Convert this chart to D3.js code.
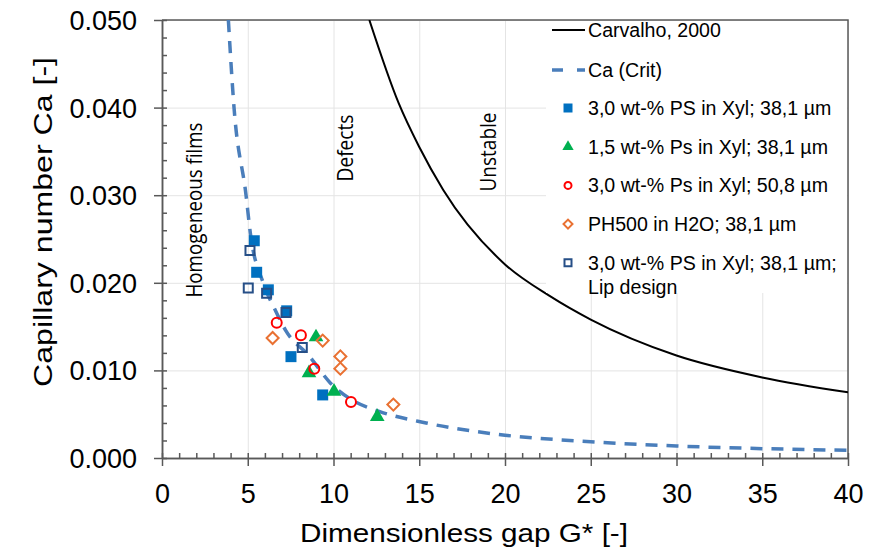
<!DOCTYPE html>
<meta charset="utf-8">
<style>
    body { margin: 0; background: #fff; }
    svg text { font-family: "Liberation Sans", Arial, sans-serif; fill: #000; }
    .grid line { stroke: #e4e4e4; stroke-width: 1; }
    .grid path { display: none; }
    .axis path, .axis line { stroke: #595959; stroke-width: 1.5; }
    .note { font-family: "Open Sans", sans-serif; font-size: 21px; }
    .leg { font-size: 19.6px; }
</style>
<body>
<script src="https://cdn.jsdelivr.net/npm/d3@7"></script>
<script>

    // curves: [G*, Ca]
    var carvalho = [[12.09, 0.050], [13.8, 0.0405], [15, 0.0355], [16.4, 0.0306], [20, 0.0221],
        [22.6, 0.0185], [25, 0.0158], [30, 0.0117], [35, 0.0092], [40, 0.0075]];
    var caCrit = [[3.87, 0.050], [4.2, 0.040], [4.9, 0.030], [5.15, 0.0257], [5.9, 0.020],
        [6.6, 0.0169], [7.2, 0.0146], [8.6, 0.0116], [9.8, 0.0086], [11.1, 0.0066],
        [12.7, 0.0053], [15.4, 0.0040], [20, 0.0026], [25, 0.00186], [30, 0.00137],
        [35, 0.00107], [40, 0.00088]];

    // measured points
    var ps30 = [[5.38, 0.0248], [5.52, 0.0212], [6.2, 0.0192], [7.27, 0.0168], [7.52, 0.01157], [9.37, 0.0072]];
    var ps15 = [[8.98, 0.0138], [8.57, 0.0097], [10.03, 0.0076], [12.55, 0.0047]];
    var ps30wide = [[6.69, 0.01545], [8.1, 0.0140], [8.88, 0.0102], [11.02, 0.0064]];
    var ph500 = [[6.45, 0.0137], [9.37, 0.0134], [10.4, 0.0116], [10.4, 0.0102], [13.49, 0.0061]];
    var psLip = [[5.13, 0.0237], [5.03, 0.0194], [6.1, 0.0188], [7.23, 0.0166], [8.18, 0.0126]];

    var xTicks = [0, 5, 10, 15, 20, 25, 30, 35, 40];
    var yTicks = [0, 0.01, 0.02, 0.03, 0.04, 0.05];

    var series = [
        { name: "3,0 wt-% PS in Xyl; 38,1 µm", data: ps30, type: "square", color: "#0070c0", fill: true },
        { name: "1,5 wt-% Ps in Xyl; 38,1 µm", data: ps15, type: "triangle", color: "#00b050", fill: true },
        { name: "3,0 wt-% Ps in Xyl; 50,8 µm", data: ps30wide, type: "circle", color: "#ff0000", fill: false },
        { name: "PH500 in H2O; 38,1 µm", data: ph500, type: "diamond", color: "#e97132", fill: false },
        { name: "3,0 wt-% PS in Xyl; 38,1 µm;", name2: "Lip design", data: psLip, type: "square", color: "#264f87", fill: false }
    ];

    var W = 870, H = 559;
    var pLeft = 162, pRight = 848, pTop = 20, pBottom = 458;

    var x = d3.scaleLinear().domain([0, 40]).range([pLeft, pRight]);
    var y = d3.scaleLinear().domain([0, 0.05]).range([pBottom, pTop]);

    var svg = d3.select("body").append("svg")
        .attr("width", W)
        .attr("height", H);

    svg.append("defs").append("clipPath").attr("id", "plot")
        .append("rect").attr("x", pLeft).attr("y", pTop)
        .attr("width", pRight - pLeft).attr("height", pBottom - pTop);

    // grid
    svg.append("g").attr("class", "grid")
        .attr("transform", "translate(0," + pBottom + ")")
        .call(d3.axisBottom(x).tickValues(xTicks.slice(1)).tickSize(-(pBottom - pTop)).tickFormat(""));
    svg.append("g").attr("class", "grid")
        .attr("transform", "translate(" + pLeft + ",0)")
        .call(d3.axisLeft(y).tickValues(yTicks.slice(1)).tickSize(-(pRight - pLeft)).tickFormat(""));

    // frame
    svg.append("path")
        .attr("d", "M" + pLeft + "," + pTop + "H" + pRight + "V" + pBottom)
        .attr("fill", "none").attr("stroke", "#595959").attr("stroke-width", 1.5);

    // minor ticks (inside)
    svg.append("g").attr("class", "axis")
        .attr("transform", "translate(0," + pBottom + ")")
        .call(d3.axisBottom(x).tickValues(d3.range(0, 41, 1)).tickSize(-5).tickSizeOuter(0).tickFormat(""));
    svg.append("g").attr("class", "axis")
        .attr("transform", "translate(" + pLeft + ",0)")
        .call(d3.axisLeft(y).tickValues(d3.range(0, 26).map(function (i) { return i * 0.002; }))
            .tickSize(-5).tickSizeOuter(0).tickFormat(""));

    // major axes
    var xAxis = svg.append("g").attr("class", "axis")
        .attr("transform", "translate(0," + pBottom + ")")
        .call(d3.axisBottom(x).tickValues(xTicks).tickSize(8).tickSizeOuter(0).tickFormat(d3.format("d")));
    xAxis.selectAll("text").attr("font-size", 27).attr("dy", null).attr("y", 45)
        .attr("font-family", "Liberation Sans, Arial, sans-serif");

    var yAxis = svg.append("g").attr("class", "axis")
        .attr("transform", "translate(" + pLeft + ",0)")
        .call(d3.axisLeft(y).tickValues(yTicks).tickSize(8).tickSizeOuter(0).tickFormat(d3.format(".3f")));
    yAxis.selectAll("text").attr("font-size", 27).attr("x", -25).attr("dy", "0.35em")
        .attr("font-family", "Liberation Sans, Arial, sans-serif");

    // axis titles
    svg.append("text")
        .attr("x", 464).attr("y", 542)
        .attr("text-anchor", "middle")
        .attr("font-size", 25)
        .attr("textLength", 328).attr("lengthAdjust", "spacingAndGlyphs")
        .text("Dimensionless  gap G* [-]");

    svg.append("text")
        .attr("transform", "translate(52,222) rotate(-90)")
        .attr("text-anchor", "middle")
        .attr("font-size", 25)
        .attr("textLength", 330).attr("lengthAdjust", "spacingAndGlyphs")
        .text("Capillary number Ca [-]");

    // region notes
    var notes = [["Homogeneous films", 202, 210, 175], ["Defects", 353, 148, 67], ["Unstable", 496, 152, 79]];
    svg.selectAll(".note").data(notes).enter().append("text")
        .attr("class", "note")
        .attr("transform", function (d) { return "translate(" + d[1] + "," + d[2] + ") rotate(-90)"; })
        .attr("text-anchor", "middle")
        .attr("textLength", function (d) { return d[3]; })
        .attr("lengthAdjust", "spacingAndGlyphs")
        .text(function (d) { return d[0]; });

    var line = d3.line()
        .x(function (d) { return x(d[0]); })
        .y(function (d) { return y(d[1]); })
        .curve(d3.curveMonotoneX);

    var plot = svg.append("g").attr("clip-path", "url(#plot)");

    plot.append("path").datum(carvalho)
        .attr("d", line).attr("fill", "none")
        .attr("stroke", "#000").attr("stroke-width", 2);

    plot.append("path").datum(caCrit)
        .attr("d", line).attr("fill", "none")
        .attr("stroke", "#4a7ebb").attr("stroke-width", 3.5)
        .attr("stroke-dasharray", "12,9");

    function shape(type, s) {
        if (type == "square") return d3.symbol(d3.symbolSquare, s * s)();
        if (type == "triangle") return d3.symbol(d3.symbolTriangle, s * s * 0.55)();
        if (type == "circle") return d3.symbol(d3.symbolCircle, Math.PI * s * s / 4)();
        if (type == "diamond") return d3.symbol(d3.symbolSquare, s * s / 2)();
    }

    function drawMarker(g, sr, size) {
        g.append("path")
            .attr("d", shape(sr.type, sr.fill ? size : size - 2))
            .attr("transform", sr.type == "diamond" ? "rotate(45)" : null)
            .attr("fill", sr.fill ? sr.color : "none")
            .attr("stroke", sr.fill ? "none" : sr.color)
            .attr("stroke-width", 2);
    }

    series.forEach(function (sr) {
        var size = sr.type == "diamond" ? 14 : sr.type == "triangle" ? 13 : sr.type == "circle" ? 12 : 11;
        plot.append("g").selectAll("g")
            .data(sr.data)
            .enter().append("g")
            .attr("transform", function (d) { return "translate(" + x(d[0]) + "," + y(d[1]) + ")"; })
            .each(function () { drawMarker(d3.select(this), sr, size); });
    });

    // legend
    var legend = svg.append("g");
    legend.append("rect")
        .attr("x", 546).attr("y", pTop + 1)
        .attr("width", pRight - 546 - 1).attr("height", 272)
        .attr("fill", "#fff");

    legend.append("line")
        .attr("x1", 552).attr("x2", 585).attr("y1", 30).attr("y2", 30)
        .attr("stroke", "#000").attr("stroke-width", 2);
    legend.append("text").attr("class", "leg")
        .attr("x", 588).attr("y", 30).attr("dy", "0.35em").text("Carvalho, 2000");

    legend.append("line")
        .attr("x1", 552).attr("x2", 585).attr("y1", 70).attr("y2", 70)
        .attr("stroke", "#4a7ebb").attr("stroke-width", 3.5)
        .attr("stroke-dasharray", "11,14");
    legend.append("text").attr("class", "leg")
        .attr("x", 588).attr("y", 70).attr("dy", "0.35em").text("Ca (Crit)");

    series.forEach(function (sr, i) {
        var ly = 108 + i * 38.7;
        var g = legend.append("g").attr("transform", "translate(568," + ly + ")");
        drawMarker(g, sr, sr.type == "diamond" ? 11 : sr.type == "triangle" ? 10 : 9);
        legend.append("text").attr("class", "leg")
            .attr("x", 588).attr("y", ly).attr("dy", "0.35em").text(sr.name);
        if (sr.name2) legend.append("text").attr("class", "leg")
            .attr("x", 588).attr("y", ly + 24).attr("dy", "0.35em").text(sr.name2);
    });

</script>
</body>
